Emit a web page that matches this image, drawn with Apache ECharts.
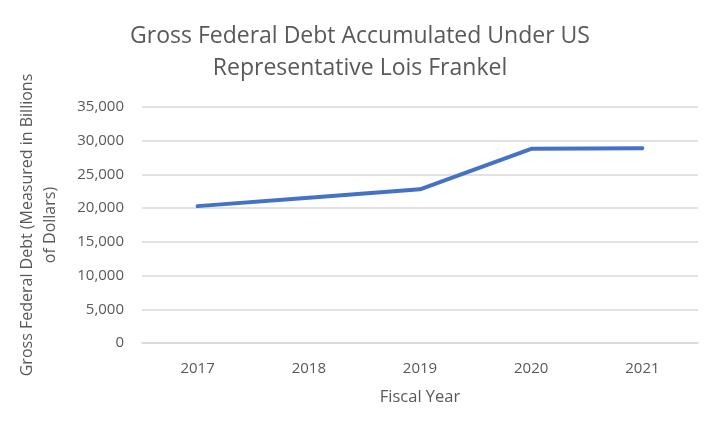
<!DOCTYPE html>
<html><head><meta charset="utf-8">
<script src="https://cdn.jsdelivr.net/npm/echarts@6/dist/echarts.min.js"></script>
<style>html,body{margin:0;padding:0;background:#fff}#c{width:713px;height:429px}</style>
</head><body><div id="c"></div>
<script>
const years = ['2017','2018','2019','2020','2021'];
const debt = [20300, 21550, 22800, 28800, 28900];
const yTicks = {min: 0, max: 35000, interval: 5000};
const titleText = 'Gross Federal Debt Accumulated Under US\nRepresentative Lois Frankel';
const xName = 'Fiscal Year';
const yName = 'Gross Federal Debt (Measured in Billions\nof Dollars)';

const font = 'Open Sans, Lato, sans-serif';
const chart = echarts.init(document.getElementById('c'), null, {renderer: 'canvas'});
chart.setOption({
  animation: false,
  title: {
    text: titleText, left: 355, top: 15, textAlign: 'center',
    textStyle: {fontFamily: font, fontSize: 23, fontWeight: 'normal', color: '#595959', lineHeight: 32}
  },
  grid: {left: 142, right: 15, top: 107, bottom: 86},
  xAxis: {
    type: 'category', data: years, boundaryGap: true,
    name: xName, nameLocation: 'middle', nameGap: 46,
    nameTextStyle: {fontFamily: font, fontSize: 16.5, color: '#595959'},
    axisLine: {show: true, lineStyle: {color: '#d9d9d9', width: 1.5}},
    axisTick: {show: false},
    axisLabel: {fontFamily: font, fontSize: 15, color: '#595959', margin: 18}
  },
  yAxis: {
    type: 'value', min: yTicks.min, max: yTicks.max, interval: yTicks.interval,
    name: yName, nameLocation: 'middle', nameGap: 80, nameRotate: 90,
    nameTextStyle: {fontFamily: font, fontSize: 16, color: '#595959', lineHeight: 23},
    axisLine: {show: false}, axisTick: {show: false},
    axisLabel: {fontFamily: font, fontSize: 15, color: '#595959', margin: 18,
      formatter: v => v.toLocaleString('en-US')},
    splitLine: {lineStyle: {color: '#d9d9d9', width: 1.5}}
  },
  series: [{
    type: 'line', data: debt, symbol: 'none',
    lineStyle: {color: '#4472C4', width: 4, cap: 'round', join: 'round'}
  }]
});
</script></body></html>
